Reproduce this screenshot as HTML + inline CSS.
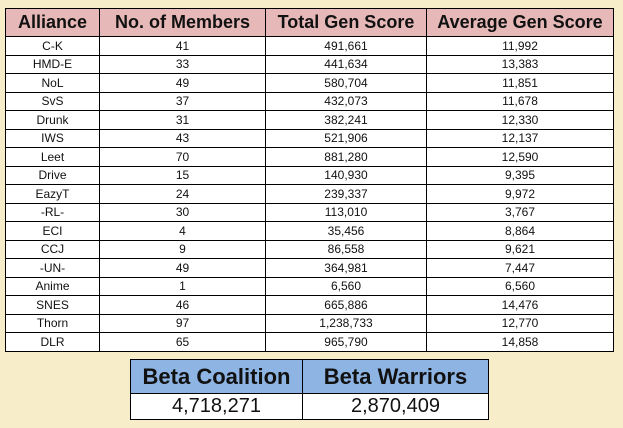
<!DOCTYPE html>
<html><head><meta charset="utf-8">
<style>
body{margin:0;width:623px;height:428px;background:#f7edc8;position:relative;overflow:hidden;font-family:"Liberation Sans",sans-serif}
table{border-collapse:collapse;position:absolute;table-layout:fixed}
td,th{border:1px solid #000;text-align:center;padding:0;color:#111}
#main{left:5px;top:8px;width:608px}
#main th{background:#e6b9b8;height:27px;font-size:18px;font-weight:bold}
#main td{background:#fff;height:17.5px;font-size:12px}
#sum{left:130px;top:359px;width:358px}
#sum th{background:#8eb4e3;height:33px;font-size:22px;font-weight:bold}
#sum td{background:#fff;height:25px;font-size:20px}
</style></head><body>
<table id="main">
<colgroup><col style="width:94px"><col style="width:166px"><col style="width:161px"><col style="width:187px"></colgroup>
<thead><tr><th>Alliance</th><th>No. of Members</th><th>Total Gen Score</th><th>Average Gen Score</th></tr></thead>
<tbody id="tb"></tbody></table>
<table id="sum">
<colgroup><col style="width:172px"><col style="width:186px"></colgroup>
<tr><th>Beta Coalition</th><th>Beta Warriors</th></tr>
<tr><td>4,718,271</td><td>2,870,409</td></tr>
</table>
<script>
const alliances=["C-K","HMD-E","NoL","SvS","Drunk","IWS","Leet","Drive","EazyT","-RL-","ECI","CCJ","-UN-","Anime","SNES","Thorn","DLR"];
const members=["41","33","49","37","31","43","70","15","24","30","4","9","49","1","46","97","65"];
const totals=["491,661","441,634","580,704","432,073","382,241","521,906","881,280","140,930","239,337","113,010","35,456","86,558","364,981","6,560","665,886","1,238,733","965,790"];
const avgs=["11,992","13,383","11,851","11,678","12,330","12,137","12,590","9,395","9,972","3,767","8,864","9,621","7,447","6,560","14,476","12,770","14,858"];
const tb=document.getElementById('tb');
alliances.forEach((a,i)=>{
 const tr=document.createElement('tr');
 
 
 [a,members[i],totals[i],avgs[i]].forEach((v,j)=>{
  const td=document.createElement('td');
  td.textContent=v;
  
  
  tr.appendChild(td);
 });
 tb.appendChild(tr);
});
</script>
</body></html>
